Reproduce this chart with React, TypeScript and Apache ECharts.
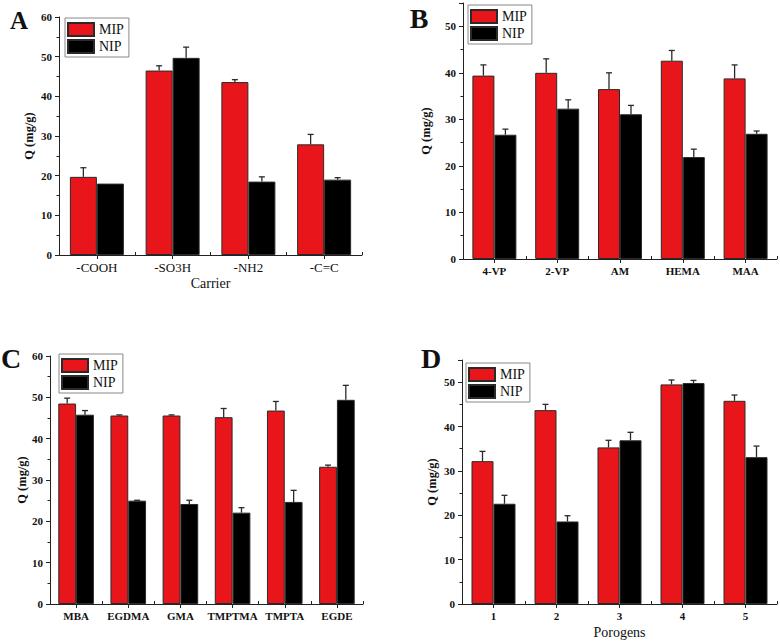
import React, { useEffect, useRef } from "react";
import * as echarts from "echarts";

// Panel A
const catA = ["-COOH", "-SO3H", "-NH2", "-C=C"];
const mipA = [19.7, 46.5, 43.6, 27.9];
const mipErrA = [2.3, 1.2, 0.6, 2.5];
const nipA = [18.0, 49.7, 18.5, 19.0];
const nipErrA = [0, 2.7, 1.2, 0.5];

// Panel B
const catB = ["4-VP", "2-VP", "AM", "HEMA", "MAA"];
const mipB = [39.4, 40.0, 36.5, 42.6, 38.8];
const mipErrB = [2.3, 3.0, 3.5, 2.2, 2.9];
const nipB = [26.7, 32.3, 31.1, 21.9, 26.9];
const nipErrB = [1.2, 1.9, 1.9, 1.7, 0.6];

// Panel C
const catC = ["MBA", "EGDMA", "GMA", "TMPTMA", "TMPTA", "EGDE"];
const mipC = [48.5, 45.6, 45.6, 45.2, 46.8, 33.2];
const mipErrC = [1.3, 0.15, 0.15, 2.1, 2.2, 0.4];
const nipC = [45.8, 25.0, 24.2, 22.1, 24.7, 49.4];
const nipErrC = [1.0, 0.1, 0.9, 1.2, 2.8, 3.5];

// Panel D
const catD = ["1", "2", "3", "4", "5"];
const mipD = [32.2, 43.7, 35.3, 49.5, 45.8];
const mipErrD = [2.2, 1.3, 1.6, 1.0, 1.3];
const nipD = [22.6, 18.6, 36.9, 49.8, 33.1];
const nipErrD = [1.9, 1.3, 1.8, 0.6, 2.5];

const yMaxes = [60, 55, 60, 55];
const xNames = ["Carrier", "", "", "Porogens"];
const letters = ["A", "B", "C", "D"];

const SERIF = "'Liberation Serif', 'Times New Roman', serif";
const RED = "#e8161b";

export default function App() {
  const ref = useRef<HTMLDivElement>(null);
  useEffect(() => {
    if (!ref.current) return;
    const chart = echarts.init(ref.current, undefined, { renderer: "svg" });

    const panels = [
      { cats: catA, mip: mipA, mipErr: mipErrA, nip: nipA, nipErr: nipErrA, grid: { left: 59, top: 17, width: 303, height: 238 }, bw: 27, legend: { left: 65, top: 18 }, xBold: false, xSize: 13, nameGapY: 24, letter: { x: 19, y: 20, size: 25 } },
      { cats: catB, mip: mipB, mipErr: mipErrB, nip: nipB, nipErr: nipErrB, grid: { left: 463, top: 3, width: 314, height: 256 }, bw: 22, legend: { left: 468, top: 5 }, xBold: true, xSize: 11, nameGapY: 31, letter: { x: 419, y: 18, size: 28 } },
      { cats: catC, mip: mipC, mipErr: mipErrC, nip: nipC, nipErr: nipErrC, grid: { left: 50, top: 356, width: 313, height: 248 }, bw: 17.8, legend: { left: 59, top: 354 }, xBold: true, xSize: 11, nameGapY: 22, letter: { x: 11, y: 358, size: 28 } },
      { cats: catD, mip: mipD, mipErr: mipErrD, nip: nipD, nipErr: nipErrD, grid: { left: 462, top: 360, width: 315, height: 244 }, bw: 22, legend: { left: 466, top: 363 }, xBold: true, xSize: 11, nameGapY: 24, letter: { x: 431, y: 358, size: 28 } },
    ];

    const grids: any[] = [];
    const xAxes: any[] = [];
    const yAxes: any[] = [];
    const series: any[] = [];
    const legends: any[] = [];
    const graphics: any[] = [];

    const errSeries = (name: string, data: number[], err: number[], xi: number, yi: number, offset: number) => ({
      type: "custom",
      name,
      xAxisIndex: xi,
      yAxisIndex: yi,
      z: 5,
      silent: true,
      encode: { x: 0, y: 1 },
      data: data.map((v, i) => [i, v, err[i]]),
      renderItem: (params: any, api: any) => {
        const idx = api.value(0);
        const v = api.value(1);
        const e = api.value(2);
        if (!e) return { type: "group", children: [] };
        const p0 = api.coord([idx, v]);
        const p1 = api.coord([idx, v + e]);
        const x = p0[0] + offset;
        const st = { stroke: "#2a2a2a", lineWidth: 1.3 };
        return {
          type: "group",
          children: [
            { type: "line", shape: { x1: x, y1: p0[1], x2: x, y2: p1[1] }, style: st },
            { type: "line", shape: { x1: x - 3, y1: p1[1], x2: x + 3, y2: p1[1] }, style: st },
          ],
        };
      },
    });

    panels.forEach((p, i) => {
      grids.push({ ...p.grid, containLabel: false });
      const xi = xAxes.length;
      xAxes.push({
        type: "category",
        gridIndex: i,
        data: p.cats,
        position: "bottom",
        name: xNames[i],
        nameLocation: "middle",
        nameGap: 21,
        nameTextStyle: { fontFamily: SERIF, fontSize: 14, color: "#111" },
        axisLine: { show: true, lineStyle: { color: "#222", width: 1 } },
        axisTick: { show: true, alignWithLabel: true, inside: false, length: 4, lineStyle: { color: "#222" } },
        axisLabel: { interval: 0, hideOverlap: false, fontFamily: SERIF, fontSize: p.xSize, fontWeight: p.xBold ? "bold" : "normal", color: "#111", margin: 6 },
        splitLine: { show: false },
      });
      xAxes.push({
        type: "category",
        gridIndex: i,
        data: p.cats,
        position: "bottom",
        axisLine: { show: false },
        axisTick: { show: true, interval: 0, inside: true, length: 3, lineStyle: { color: "#222" } },
        axisLabel: { show: false },
        splitLine: { show: false },
      });
      yAxes.push({
        type: "value",
        gridIndex: i,
        min: 0,
        max: yMaxes[i],
        interval: 10,
        name: "Q (mg/g)",
        nameLocation: "middle",
        nameGap: p.nameGapY,
        nameRotate: 90,
        nameTextStyle: { fontFamily: SERIF, fontSize: 12.5, fontWeight: "bold", color: "#111" },
        axisLine: { show: true, lineStyle: { color: "#222", width: 1 } },
        axisTick: { show: true, inside: false, length: 4, lineStyle: { color: "#222" } },
        minorTick: { show: true, splitNumber: 2, length: 2.5, lineStyle: { color: "#222" } },
        axisLabel: { fontFamily: SERIF, fontSize: 11, fontWeight: "bold", color: "#111", margin: 7, showMaxLabel: yMaxes[i] % 10 === 0 },
        splitLine: { show: false },
      });
      series.push({
        type: "bar",
        name: "MIP",
        xAxisIndex: xi,
        yAxisIndex: i,
        data: p.mip,
        barWidth: p.bw,
        barGap: "0%",
        itemStyle: { color: RED, borderColor: "#2a2a2a", borderWidth: 1 },
      });
      series.push({
        type: "bar",
        name: "NIP",
        xAxisIndex: xi,
        yAxisIndex: i,
        data: p.nip,
        barWidth: p.bw,
        barGap: "0%",
        itemStyle: { color: "#000", borderColor: "#2a2a2a", borderWidth: 1 },
      });
      series.push(errSeries("MIP err " + i, p.mip, p.mipErr, xi, i, -p.bw / 2));
      series.push(errSeries("NIP err " + i, p.nip, p.nipErr, xi, i, p.bw / 2));
      legends.push({
        data: ["MIP", "NIP"],
        orient: "vertical",
        left: p.legend.left,
        top: p.legend.top,
        padding: [4, 5, 3, 2],
        itemGap: 2,
        itemWidth: 26,
        itemHeight: 13,
        icon: "rect",
        borderColor: "#888",
        borderWidth: 1,
        selectedMode: false,
        textStyle: { fontFamily: SERIF, fontSize: 14, color: "#111", padding: [0, 0, 0, 0] },
      });
      graphics.push({
        type: "text",
        x: p.letter.x,
        y: p.letter.y,
        style: {
          text: letters[i],
          font: `bold ${p.letter.size}px ${SERIF}`,
          fill: "#111",
          textAlign: "center",
          textVerticalAlign: "middle",
        },
      });
    });

    chart.setOption({
      animation: false,
      backgroundColor: "#fff",
      grid: grids,
      xAxis: xAxes,
      yAxis: yAxes,
      legend: legends,
      series,
      graphic: graphics,
    });

    return () => chart.dispose();
  }, []);

  return (
    <div
      ref={ref}
      style={{ position: "fixed", left: 0, top: 0, width: 780, height: 642, background: "#fff" }}
    />
  );
}
